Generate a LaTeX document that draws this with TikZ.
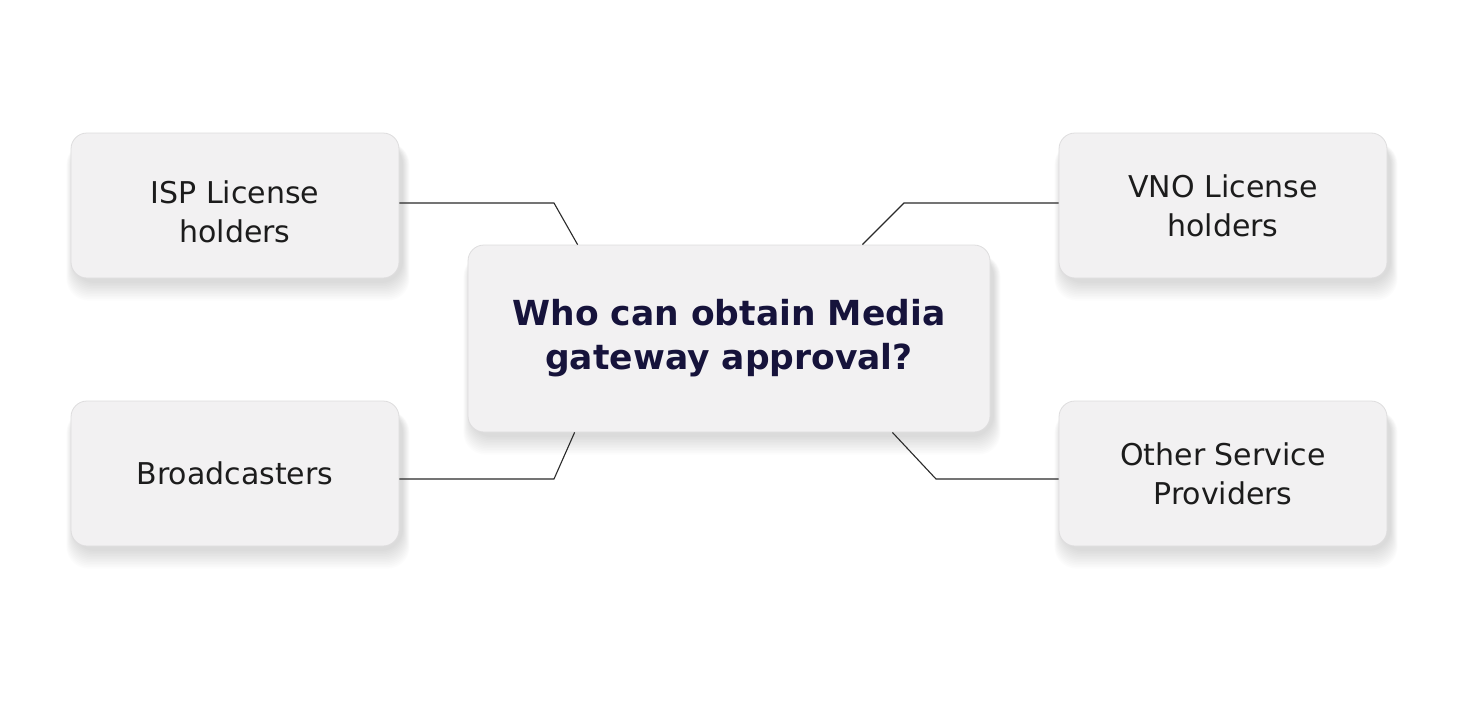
\documentclass[tikz,border=0pt]{standalone}
\usepackage{fontspec}
\setmainfont{DejaVu Sans}
\usetikzlibrary{calc}
\definecolor{boxfill}{HTML}{F2F1F2}
\definecolor{boxline}{HTML}{DEDDDE}
\definecolor{titlecol}{HTML}{16133B}
\definecolor{txtcol}{HTML}{1C1C1C}
\definecolor{wirecol}{HTML}{2A2A2A}
\pgfdeclarelayer{bg}
\pgfdeclarelayer{shadowlayer}
\pgfsetlayers{bg,shadowlayer,main}
\tikzset{
  cardbox/.style={draw=boxline, line width=0.8pt, fill=boxfill, rounded corners=16pt,
    align=center, inner sep=0pt, text=txtcol,
    font=\fontsize{30}{39}\selectfont},
  sidebox/.style={cardbox, minimum width=328pt, minimum height=145pt},
  mainbox/.style={cardbox, minimum width=522pt, minimum height=187pt, text=titlecol,
    font=\fontsize{34.5}{44}\selectfont\bfseries},
  wire/.style={draw=wirecol, line width=1.1pt},
  shadowfill/.style={fill=black, opacity=0.011, rounded corners=22pt}
}
\begin{document}
\begin{tikzpicture}[x=1pt,y=-1pt]
\begin{pgfonlayer}{bg}
\useasboundingbox[fill=white] (0,0) rectangle (1457,704);
\end{pgfonlayer}
\node[mainbox] (ctr) at (729,338.5) {Who can obtain Media\\gateway approval?};
\node[sidebox] (isp) at (235,205.5) {\rule{0pt}{34.8pt}ISP License\\holders};
\node[sidebox] (vno) at (1223,205.5) {VNO License\\holders};
\node[sidebox] (brd) at (235,473.5) {Broadcasters};
\node[sidebox] (osp) at (1223,473.5) {Other Service\\Providers};
\begin{pgfonlayer}{shadowlayer}
\foreach \n in {ctr,isp,vno,brd,osp}{
  \foreach \k in {1,...,12}{
    \fill[shadowfill] ($(\n.north west)+(-0.6*\k+3,10)$) rectangle ($(\n.south east)+(0.6*\k+3,3+1.6*\k)$);
  }
}
\end{pgfonlayer}
\coordinate (e1) at (554,203);
\coordinate (e2) at (904,203);
\coordinate (e3) at (554,479);
\coordinate (e4) at (936,479);
\coordinate (t1) at ($(ctr.north west)+(110,0)$);
\coordinate (t2) at ($(ctr.north east)+(-128,0)$);
\coordinate (t3) at ($(ctr.south west)+(107,0)$);
\coordinate (t4) at ($(ctr.south east)+(-98,0)$);
\draw[wire] (isp.east |- e1) -- (e1) -- (t1);
\draw[wire] (vno.west |- e2) -- (e2) -- (t2);
\draw[wire] (brd.east |- e3) -- (e3) -- (t3);
\draw[wire] (osp.west |- e4) -- (e4) -- (t4);
\end{tikzpicture}
\end{document}
